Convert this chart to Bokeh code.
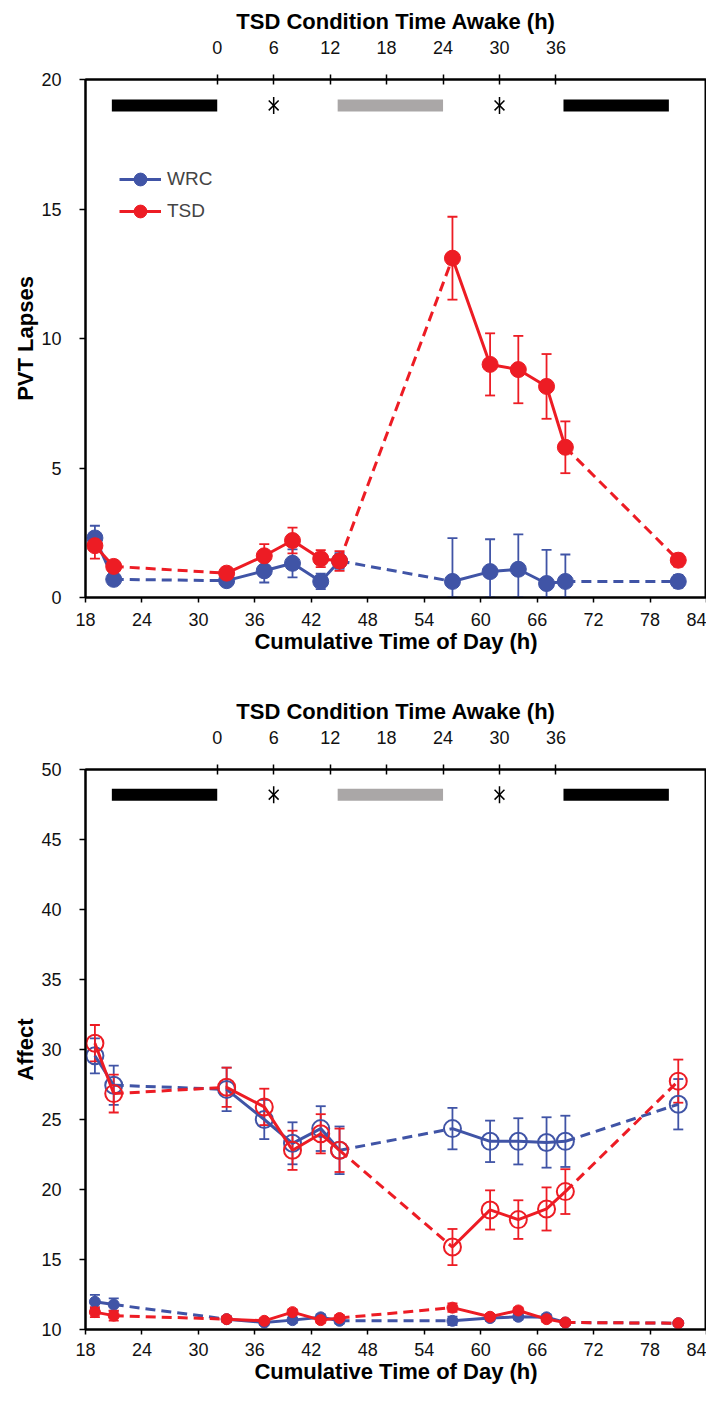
from bokeh.plotting import figure
from bokeh.models import (Range1d, LinearAxis, FixedTicker, Whisker, TeeHead,
                          ColumnDataSource, Legend, LegendItem)
from bokeh.layouts import column
from bokeh.embed import file_html
from bokeh.resources import INLINE
import numpy as np

# ---------------- data ----------------
time_h = [19, 21, 33, 37, 40, 43, 45, 57, 61, 64, 67, 69, 81]
x_ticks = [18, 24, 30, 36, 42, 48, 54, 60, 66, 72, 78, 84]
awake_ticks = [0, 6, 12, 18, 24, 30, 36]
awake_offset = 32            # cumulative hour at which TSD time awake = 0

pvt_wrc = [2.30, 0.70, 0.65, 1.03, 1.32, 0.62, 1.41, 0.62, 1.00, 1.09, 0.54, 0.62, 0.62]
pvt_wrc_err = [0.47, 0.15, 0.15, 0.45, 0.54, 0.30, 0.30, 1.67, 1.25, 1.35, 1.30, 1.04, 0.25]
pvt_tsd = [2.00, 1.20, 0.94, 1.61, 2.20, 1.50, 1.41, 13.10, 9.00, 8.80, 8.15, 5.80, 1.44]
pvt_tsd_err = [0.50, 0.20, 0.15, 0.45, 0.50, 0.33, 0.38, 1.60, 1.20, 1.30, 1.25, 1.00, 0.25]

pos_wrc = [29.55, 27.45, 27.15, 25.00, 23.30, 24.35, 22.80, 24.35, 23.44, 23.44, 23.36, 23.44, 26.09]
pos_wrc_err = [1.25, 1.40, 1.55, 1.40, 1.50, 1.60, 1.70, 1.48, 1.48, 1.65, 1.80, 1.83, 1.80]
pos_tsd = [30.45, 26.85, 27.30, 25.90, 22.80, 23.98, 22.80, 15.89, 18.54, 17.85, 18.61, 19.85, 27.74]
pos_tsd_err = [1.30, 1.35, 1.40, 1.30, 1.40, 1.40, 1.55, 1.29, 1.40, 1.38, 1.54, 1.60, 1.54]
neg_wrc = [11.98, 11.78, 10.74, 10.50, 10.67, 10.87, 10.62, 10.62, 10.82, 10.91, 10.87, 10.50, 10.45]
neg_wrc_err = [0.50, 0.45, 0.20, 0.15, 0.20, 0.20, 0.20, 0.30, 0.20, 0.20, 0.20, 0.15, 0.15]
neg_tsd = [11.24, 10.99, 10.74, 10.62, 11.24, 10.67, 10.82, 11.56, 10.91, 11.36, 10.74, 10.50, 10.45]
neg_tsd_err = [0.35, 0.35, 0.20, 0.15, 0.20, 0.20, 0.20, 0.30, 0.20, 0.20, 0.20, 0.15, 0.15]

# session blocks joined by solid lines; gaps joined by dashed lines
solid_groups = [[0, 1], [2, 3, 4, 5, 6], [7, 8, 9, 10, 11]]
dashed_links = [(1, 2), (6, 7), (11, 12)]

# condition bars (cumulative hours) and asterisks
black_bars = [(20.8, 32.0), (68.8, 80.0)]
gray_bars = [(44.8, 56.0)]
star_x = [38.0, 62.0]

BLUE = "#4054A6"
RED = "#ED1C24"
GRAY = "#AAA7A7"
FONT = "Liberation Sans"


def style_axis(ax):
    ax.axis_line_width = 2
    ax.axis_line_color = "black"
    ax.major_tick_line_color = "black"
    ax.major_tick_line_width = 1.5
    ax.minor_tick_line_color = None
    ax.major_label_text_font = FONT
    ax.major_label_text_font_size = "18px"
    ax.major_label_text_color = "#111111"
    ax.axis_label_text_font = FONT
    ax.axis_label_text_font_size = "22px"
    ax.axis_label_text_font_style = "bold"
    ax.axis_label_text_color = "black"


def make_fig(height, ymin, ymax, yticks, ylabel, left, right, top, bottom, bar_y,
             xlab_standoff):
    p = figure(width=706, height=height, x_range=Range1d(18, 84),
               y_range=Range1d(ymin, ymax), output_backend="svg",
               toolbar_location=None, min_border_left=left, min_border_right=right,
               min_border_top=top, min_border_bottom=bottom)
    p.xgrid.visible = False
    p.ygrid.visible = False
    p.outline_line_color = "black"
    p.outline_line_width = 2
    p.outline_line_alpha = 1

    p.xaxis.ticker = FixedTicker(ticks=x_ticks)
    p.xaxis.axis_label = "Cumulative Time of Day (h)"
    p.xaxis.major_tick_in = 0
    p.xaxis.major_tick_out = 5
    p.xaxis.major_label_standoff = xlab_standoff
    p.xaxis.axis_label_standoff = 0
    p.yaxis.ticker = FixedTicker(ticks=yticks)
    p.yaxis.axis_label = ylabel
    p.yaxis.major_tick_in = 0
    p.yaxis.major_tick_out = 6
    p.yaxis.major_label_standoff = 18
    p.yaxis.axis_label_standoff = 0
    for ax in p.xaxis + p.yaxis:
        style_axis(ax)

    p.extra_x_ranges = {"awake": Range1d(18 - awake_offset, 84 - awake_offset)}
    top_ax = LinearAxis(x_range_name="awake", ticker=FixedTicker(ticks=awake_ticks),
                        axis_label="TSD Condition Time Awake (h)")
    top_ax.major_tick_in = 5
    top_ax.major_tick_out = 5
    top_ax.major_label_standoff = 21
    top_ax.axis_label_standoff = 4
    style_axis(top_ax)
    p.add_layout(top_ax, "above")

    # condition bars
    bx = [(a + b) / 2 for a, b in black_bars]
    bw = [b - a for a, b in black_bars]
    p.rect(x=bx, y=[bar_y] * len(bx), width=bw, height=12, height_units="screen",
           fill_color="black", line_color=None)
    gx = [(a + b) / 2 for a, b in gray_bars]
    gw = [b - a for a, b in gray_bars]
    p.rect(x=gx, y=[bar_y] * len(gx), width=gw, height=12, height_units="screen",
           fill_color=GRAY, line_color=None)
    p.scatter(x=star_x, y=[bar_y] * len(star_x), marker="x", size=14,
              line_color="black", line_width=1.5)
    p.scatter(x=star_x, y=[bar_y] * len(star_x), marker="dash", angle=np.pi / 2,
              size=17, line_color="black", line_width=1.5)
    return p


def draw_series(p, y, err, color, filled, size, ymin, lw=3):
    first = None
    for a, b in dashed_links:
        p.line([time_h[a], time_h[b]], [y[a], y[b]], line_color=color,
               line_width=lw, line_dash="10 6")
    for g in solid_groups:
        r = p.line([time_h[i] for i in g], [y[i] for i in g], line_color=color,
                   line_width=lw)
        if first is None:
            first = r
    src = ColumnDataSource(dict(x=time_h,
                                lo=[max(v - e, ymin) for v, e in zip(y, err)],
                                hi=[v + e for v, e in zip(y, err)]))
    w = Whisker(source=src, base="x", upper="hi", lower="lo", line_color=color,
                line_width=1.8,
                upper_head=TeeHead(size=10, line_color=color, line_width=1.8),
                lower_head=TeeHead(size=10, line_color=color, line_width=1.8))
    p.add_layout(w)
    sc = p.scatter(time_h, y, size=size, marker="circle",
                   fill_color=color if filled else None,
                   fill_alpha=1 if filled else 0,
                   line_color=color, line_width=2 if not filled else 1)
    return first, sc


# ---------------- top chart: PVT lapses ----------------
p1 = make_fig(657, 0, 20, [0, 5, 10, 15, 20], "PVT Lapses",
              left=85, right=0, top=79, bottom=60, bar_y=19, xlab_standoff=10)
l_w, s_w = draw_series(p1, pvt_wrc, pvt_wrc_err, BLUE, True, 16, 0)
l_t, s_t = draw_series(p1, pvt_tsd, pvt_tsd_err, RED, True, 16, 0)
legend = Legend(items=[LegendItem(label="WRC", renderers=[l_w, s_w]),
                       LegendItem(label="TSD", renderers=[l_t, s_t])],
                location=(34, 370), border_line_color=None, background_fill_alpha=0,
                label_text_font=FONT, label_text_font_size="19px",
                glyph_width=42, glyph_height=32, label_height=32, spacing=0,
                padding=0, margin=0, label_standoff=6)
p1.add_layout(legend)

# ---------------- bottom chart: Affect ----------------
p2 = make_fig(731, 10, 50, [10, 15, 20, 25, 30, 35, 40, 45, 50], "Affect",
              left=85, right=0, top=112, bottom=59, bar_y=48.2, xlab_standoff=8)
draw_series(p2, neg_wrc, neg_wrc_err, BLUE, True, 11, 10)
draw_series(p2, neg_tsd, neg_tsd_err, RED, True, 11, 10)
draw_series(p2, pos_wrc, pos_wrc_err, BLUE, False, 17, 10)
draw_series(p2, pos_tsd, pos_tsd_err, RED, False, 17, 10)

layout = column(p1, p2, spacing=0)
open("out.html", "w").write(file_html(layout, INLINE))
